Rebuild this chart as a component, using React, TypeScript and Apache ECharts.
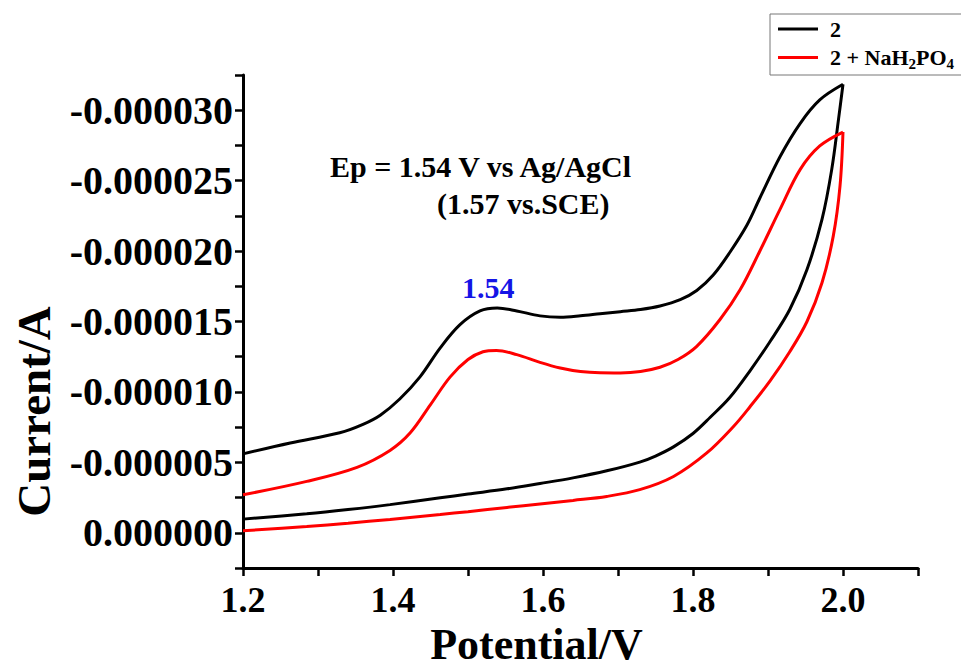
import React, { useEffect, useRef } from "react";
import * as echarts from "echarts";

// Potential (V) and current (A) — compound 2, forward scan (1.2 -> 2.0 V)
const potential2Fwd = [1.200, 1.263, 1.329, 1.360, 1.383, 1.409, 1.436, 1.463, 1.489, 1.516, 1.539, 1.565, 1.596, 1.623, 1.650, 1.676, 1.703, 1.730, 1.756, 1.783, 1.805, 1.827, 1.849, 1.872, 1.889, 1.916, 1.943, 1.969, 2.000];
const current2Fwd = [-5.60e-6, -6.38e-6, -7.10e-6, -7.70e-6, -8.35e-6, -9.50e-6, -11.07e-6, -13.13e-6, -14.76e-6, -15.75e-6, -15.96e-6, -15.75e-6, -15.40e-6, -15.30e-6, -15.40e-6, -15.55e-6, -15.70e-6, -15.85e-6, -16.10e-6, -16.55e-6, -17.20e-6, -18.30e-6, -19.90e-6, -21.85e-6, -23.75e-6, -26.70e-6, -29.07e-6, -30.73e-6, -31.84e-6];
// compound 2, reverse scan (2.0 -> 1.2 V)
const potential2Rev = [2.000, 1.994, 1.985, 1.972, 1.952, 1.929, 1.903, 1.876, 1.849, 1.823, 1.800, 1.774, 1.750, 1.729, 1.685, 1.640, 1.596, 1.552, 1.500, 1.463, 1.396, 1.340, 1.285, 1.200];
const current2Rev = [-31.84e-6, -29.35e-6, -25.80e-6, -22.25e-6, -18.69e-6, -15.85e-6, -13.60e-6, -11.50e-6, -9.60e-6, -8.20e-6, -7.05e-6, -6.10e-6, -5.45e-6, -5.02e-6, -4.40e-6, -3.90e-6, -3.50e-6, -3.12e-6, -2.75e-6, -2.48e-6, -2.00e-6, -1.65e-6, -1.35e-6, -0.97e-6];

// 2 + NaH2PO4, forward scan
const potentialPFwd = [1.200, 1.285, 1.352, 1.396, 1.423, 1.450, 1.476, 1.500, 1.520, 1.538, 1.565, 1.596, 1.623, 1.650, 1.676, 1.703, 1.730, 1.756, 1.780, 1.805, 1.836, 1.863, 1.889, 1.916, 1.943, 1.969, 2.000];
const currentPFwd = [-2.70e-6, -3.65e-6, -4.65e-6, -5.85e-6, -7.10e-6, -9.10e-6, -11.05e-6, -12.30e-6, -12.85e-6, -12.95e-6, -12.65e-6, -12.10e-6, -11.70e-6, -11.45e-6, -11.36e-6, -11.35e-6, -11.45e-6, -11.75e-6, -12.30e-6, -13.24e-6, -15.14e-6, -17.27e-6, -19.99e-6, -22.96e-6, -25.80e-6, -27.46e-6, -28.45e-6];
// 2 + NaH2PO4, reverse scan
const potentialPRev = [2.000, 1.996, 1.987, 1.972, 1.952, 1.929, 1.903, 1.876, 1.854, 1.818, 1.774, 1.729, 1.685, 1.640, 1.596, 1.552, 1.500, 1.463, 1.396, 1.340, 1.285, 1.200];
const currentPRev = [-28.45e-6, -24.61e-6, -21.06e-6, -17.75e-6, -15.00e-6, -12.85e-6, -10.80e-6, -8.95e-6, -7.55e-6, -5.65e-6, -4.00e-6, -3.06e-6, -2.58e-6, -2.30e-6, -2.05e-6, -1.80e-6, -1.50e-6, -1.30e-6, -0.95e-6, -0.68e-6, -0.45e-6, -0.14e-6];

const seriesNames = ["2", "2 + NaH2PO4"];
const seriesColors = ["#000000", "#ff0000"];

const xMin = 1.2;
const xMax = 2.1;
const xStep = 0.1;
const yMin = -0.0000325;
const yMax = 0.0000025;
const yStep = 0.0000025;

const FONT = "'Liberation Serif', 'Times New Roman', serif";

function zip(xs: number[], ys: number[]) {
  return xs.map((x, i) => [x, ys[i]]);
}

export default function App() {
  const ref = useRef<HTMLDivElement>(null);

  useEffect(() => {
    if (!ref.current) return;
    const chart = echarts.init(ref.current, undefined, { renderer: "svg" });

    const lineSeries = (name: string, color: string, data: number[][]) => ({
      type: "line",
      name,
      data,
      showSymbol: false,
      symbol: "none",
      smooth: 0.35,
      lineStyle: { color, width: 3 },
      itemStyle: { color },
      emphasis: { disabled: true },
    });

    chart.setOption({
      animation: false,
      backgroundColor: "#ffffff",
      grid: { left: 243, right: 43, top: 75, bottom: 100, containLabel: false, outerBoundsMode: "none" },
      legend: {
        data: seriesNames,
        orient: "vertical",
        left: 770,
        top: 14,
        icon: "rect",
        itemWidth: 40,
        itemHeight: 3,
        itemGap: 4,
        padding: [4, 40, 4, 8],
        borderColor: "#777777",
        borderWidth: 1,
        backgroundColor: "#ffffff",
        formatter: (name: string) =>
          name === "2 + NaH2PO4" ? "{t|2 + NaH}{s|2}{t|PO}{s|4}" : "{t|" + name + "}",
        textStyle: {
          fontFamily: FONT,
          fontWeight: "bold",
          fontSize: 22,
          color: "#000",
          padding: [0, 0, 0, 7],
          rich: {
            t: { fontFamily: FONT, fontWeight: "bold", fontSize: 22, color: "#000", lineHeight: 24 },
            s: { fontFamily: FONT, fontWeight: "bold", fontSize: 15, color: "#000", padding: [12, 0, 0, 0], lineHeight: 24 },
          },
        },
      },
      xAxis: {
        type: "value",
        min: xMin,
        max: xMax,
        interval: xStep,
        name: "Potential/V",
        nameLocation: "middle",
        nameGap: 52,
        nameTextStyle: {
          fontFamily: FONT,
          fontWeight: "bold",
          fontSize: 44,
          color: "#000",
          padding: [0, 88, 0, 0],
        },
        axisLine: { show: true, onZero: false, lineStyle: { color: "#000", width: 3 } },
        axisTick: { show: true, length: 8, lineStyle: { color: "#000", width: 2.5 } },
        splitLine: { show: false },
        axisLabel: {
          margin: 14,
          fontFamily: FONT,
          fontWeight: "bold",
          fontSize: 36,
          color: "#000",
          formatter: (v: number) => {
            const k = Math.round(v / xStep);
            if (k % 2 !== 0 || k > 20) return "";
            return (k * xStep).toFixed(1);
          },
        },
      },
      yAxis: {
        type: "value",
        inverse: true,
        min: yMin,
        max: yMax,
        interval: yStep,
        name: "Current/A",
        nameLocation: "middle",
        nameRotate: 90,
        nameGap: 186,
        nameTextStyle: {
          fontFamily: FONT,
          fontWeight: "bold",
          fontSize: 47,
          color: "#000",
          padding: [0, 180, 0, 0],
        },
        axisLine: { show: true, onZero: false, lineStyle: { color: "#000", width: 3 } },
        axisTick: { show: true, length: 8, lineStyle: { color: "#000", width: 2.5 } },
        splitLine: { show: false },
        axisLabel: {
          margin: 10,
          fontFamily: FONT,
          fontWeight: "bold",
          fontSize: 40,
          color: "#000",
          formatter: (v: number) => {
            const k = Math.round(v / yStep);
            if (k % 2 !== 0) return "";
            const val = k * yStep;
            return Math.abs(val) < 1e-12 ? "0.000000" : val.toFixed(6);
          },
        },
      },
      graphic: [
        {
          type: "text",
          left: 330,
          top: 151,
          style: {
            text: "Ep = 1.54 V vs Ag/AgCl",
            font: `bold 30px ${FONT}`,
            fill: "#000",
          },
        },
        {
          type: "text",
          left: 437,
          top: 188,
          style: {
            text: "(1.57 vs.SCE)",
            font: `bold 30px ${FONT}`,
            fill: "#000",
          },
        },
        {
          type: "text",
          left: 462,
          top: 272,
          style: {
            text: "1.54",
            font: `bold 30px ${FONT}`,
            fill: "#1414e6",
          },
        },
      ],
      series: [
        lineSeries(seriesNames[0], seriesColors[0], zip(potential2Fwd, current2Fwd)),
        lineSeries(seriesNames[0], seriesColors[0], zip(potential2Rev, current2Rev)),
        lineSeries(seriesNames[1], seriesColors[1], zip(potentialPFwd, currentPFwd)),
        lineSeries(seriesNames[1], seriesColors[1], zip(potentialPRev, currentPRev)),
      ],
    });

    return () => {
      chart.dispose();
    };
  }, []);

  return (
    <div
      ref={ref}
      style={{ position: "absolute", left: 0, top: 0, width: 961, height: 668, background: "#fff" }}
    />
  );
}
